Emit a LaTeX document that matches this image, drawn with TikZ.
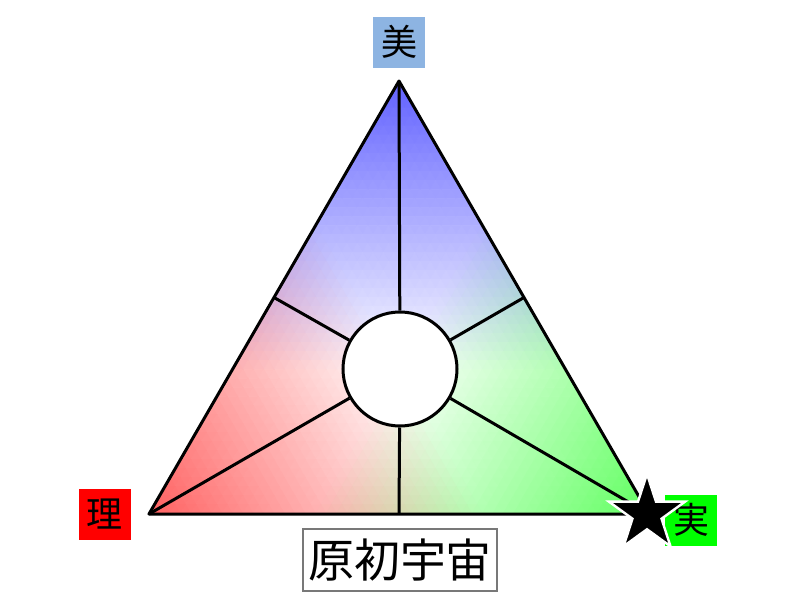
\documentclass[tikz,border=0pt]{standalone}
\usepackage{fontspec}
\newfontfamily\cjk{Noto Sans CJK JP}
\usetikzlibrary{calc,shapes.geometric}
\definecolor{labblue}{RGB}{141,180,226}
\definecolor{labred}{RGB}{255,0,0}
\definecolor{labgreen}{RGB}{0,255,0}
\definecolor{boxgray}{RGB}{120,120,120}
\newcommand\NN{48}
\newcommand\kk{0.62}
\newcommand\Pt[2]{({399+((#2)-(#1))/\NN*250},{81+((#1)+(#2))/\NN*433})}
\newcommand\mtri[5]{%
  \pgfmathsetmacro\wA{1-(#1)-(#2)}%
  \pgfmathsetmacro\eA{max(0,1.5*(\wA-1/3))}%
  \pgfmathsetmacro\eB{max(0,1.5*((#1)-1/3))}%
  \pgfmathsetmacro\eC{max(0,1.5*((#2)-1/3))}%
  \pgfmathsetmacro\mR{min(1,max(0,1-\kk*(\eA+\eC)))}%
  \pgfmathsetmacro\mG{min(1,max(0,1-\kk*(\eA+\eB)))}%
  \pgfmathsetmacro\mB{min(1,max(0,1-\kk*(\eB+\eC)))}%
  \definecolor{mc}{rgb}{\mR,\mG,\mB}%
  \fill[mc, draw=mc, line width=0.4pt, line join=round] #3 -- #4 -- #5 -- cycle;%
}
\tikzset{
  edge/.style={line width=1.5pt, line join=round},
  lab/.style={inner sep=0pt, minimum width=26pt, minimum height=25.5pt, font=\cjk\fontsize{18}{18}\selectfont},
}
\begin{document}
\begin{tikzpicture}[x=0.5pt,y=-0.5pt]
\useasboundingbox (0,0) rectangle (800,600);
% gradient mesh
\foreach \i in {0,...,47}{%
  \pgfmathtruncatemacro\jmax{47-\i}%
  \foreach \j in {0,...,\jmax}{%
    \pgfmathtruncatemacro\ip{\i+1}%
    \pgfmathtruncatemacro\jp{\j+1}%
    \mtri{(\i+1/3)/\NN}{(\j+1/3)/\NN}{\Pt{\i}{\j}}{\Pt{\ip}{\j}}{\Pt{\i}{\jp}}%
    \ifnum\j<\jmax
      \mtri{(\i+2/3)/\NN}{(\j+2/3)/\NN}{\Pt{\ip}{\j}}{\Pt{\ip}{\jp}}{\Pt{\i}{\jp}}%
    \fi
  }%
}
\coordinate (A) at (399,81);
\coordinate (B) at (149,514);
\coordinate (C) at (649,514);
\coordinate (mAB) at ($(A)!0.5!(B)$);
\coordinate (mAC) at ($(A)!0.5!(C)$);
\coordinate (mBC) at ($(B)!0.5!(C)$);
\node[circle, draw, fill=white, line width=1.5pt, minimum size=57pt, inner sep=0pt] (ctr) at (400,369) {};
\foreach \p in {A,B,C,mAB,mAC,mBC}{\draw[edge] (ctr) -- (\p);}
\draw[edge] (A) -- (B) -- (C) -- cycle;
% labels
\node[lab, fill=labblue] (beauty) at (399,42) {美};
\node[lab, fill=labred] (reason) at (104.5,514.5) {理};
\node[lab, fill=labgreen] (real) at (691,520) {実};
\node[star, star points=5, star point ratio=2.618, fill=black, draw=white, line width=1.2pt, minimum size=40pt, inner sep=0pt] (star) at (647,514) {};
\node[draw=boxgray, line width=0.6pt, fill=white, inner sep=0pt, minimum width=97pt, minimum height=31pt, font=\cjk\fontsize{23}{23}\selectfont] (orig) at (400,560) {原初宇宙};
\end{tikzpicture}
\end{document}
